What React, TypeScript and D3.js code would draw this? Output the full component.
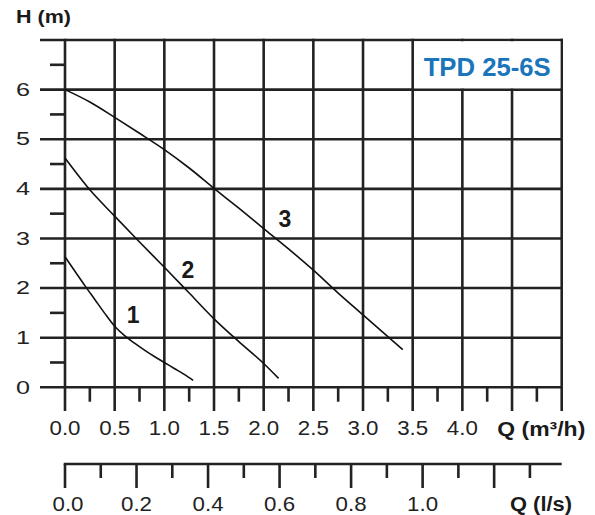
import React from "react";
import * as d3 from "d3";

// ---- data ----
const qMajorTicks = [0, 0.5, 1, 1.5, 2, 2.5, 3, 3.5, 4, 4.5, 5];
const qLabels = ["0.0", "0.5", "1.0", "1.5", "2.0", "2.5", "3.0", "3.5", "4.0"];
const hTicks = [0, 1, 2, 3, 4, 5, 6, 7];
const hLabels = ["0", "1", "2", "3", "4", "5", "6"];
const lsTicks = [0, 0.1, 0.2, 0.3, 0.4, 0.5, 0.6, 0.7, 0.8, 0.9, 1.0, 1.1, 1.2, 1.3];
const lsLabels = ["0.0", "0.2", "0.4", "0.6", "0.8", "1.0"];

const curve1Q = [0, 0.1, 0.2, 0.3, 0.4, 0.5, 0.6, 0.7, 0.8, 0.9, 1.0, 1.1, 1.2, 1.29];
const curve1H = [2.63, 2.34, 2.05, 1.77, 1.49, 1.23, 1.04, 0.89, 0.75, 0.62, 0.5, 0.38, 0.26, 0.14];
const curve2Q = [0, 0.25, 0.5, 0.75, 1.0, 1.25, 1.5, 1.75, 2.0, 2.15];
const curve2H = [4.62, 3.98, 3.45, 2.93, 2.42, 1.9, 1.38, 0.92, 0.48, 0.18];
const curve3Q = [0, 0.25, 0.5, 0.75, 1.0, 1.25, 1.5, 1.75, 2.0, 2.25, 2.5, 2.75, 3.0, 3.25, 3.4];
const curve3H = [6.0, 5.75, 5.44, 5.12, 4.79, 4.42, 4.01, 3.61, 3.2, 2.79, 2.36, 1.9, 1.46, 1.02, 0.76];

const curveNames = ["1", "2", "3"];
const curveLabelQ = [0.685, 1.238, 2.214];
const curveLabelH = [1.46, 2.37, 3.4];

const modelName = "TPD 25-6S";

const W = 595;
const H = 515;
const FONT = "'Liberation Sans', Arial, Helvetica, sans-serif";
const GRID = "#222";

export default function App() {
  const x = d3.scaleLinear().domain([0, 5]).range([65, 561.7]);
  const y = d3.scaleLinear().domain([0, 7]).range([387.3, 40]);
  const xls = d3.scaleLinear().domain([0, 5 / 3.6]).range([65, 561.7]);

  const line = d3
    .line<[number, number]>()
    .x((d) => x(d[0]))
    .y((d) => y(d[1]))
    .curve(d3.curveMonotoneX);

  const curves = [
    curve1Q.map((q, i) => [q, curve1H[i]] as [number, number]),
    curve2Q.map((q, i) => [q, curve2H[i]] as [number, number]),
    curve3Q.map((q, i) => [q, curve3H[i]] as [number, number]),
  ];

  const qMinor = d3.range(0.25, 5, 0.5);
  const hMinor = d3.range(0.5, 7, 1);
  const gw = 2.6;
  const lsY = 464;

  return (
    <svg
      width={W}
      height={H}
      style={{ position: "absolute", left: 0, top: 0, background: "#fff" }}
      fontFamily={FONT}
    >
      <rect x={0} y={0} width={W} height={H} fill="#fff" />
      {/* horizontal grid lines */}
      {hTicks.map((t) => (
        <line key={"h" + t} x1={40} x2={x(5) + gw / 2} y1={y(t)} y2={y(t)} stroke={GRID} strokeWidth={gw} />
      ))}
      {/* minor y ticks */}
      {hMinor.map((t) => (
        <line key={"hm" + t} x1={50} x2={x(0)} y1={y(t)} y2={y(t)} stroke={GRID} strokeWidth={gw} />
      ))}
      {/* vertical grid lines */}
      {qMajorTicks.map((t) => (
        <line key={"v" + t} x1={x(t)} x2={x(t)} y1={y(7) - gw / 2} y2={411} stroke={GRID} strokeWidth={gw} />
      ))}
      {/* minor x ticks */}
      {qMinor.map((t) => (
        <line key={"vm" + t} x1={x(t)} x2={x(t)} y1={y(0)} y2={401.7} stroke={GRID} strokeWidth={gw} />
      ))}
      {/* model box */}
      <rect
        x={x(3.5) + gw / 2}
        y={y(7) + gw / 2}
        width={x(5) - x(3.5) - gw}
        height={y(6) - y(7) - gw}
        fill="#fff"
      />
      <text
        x={(x(3.5) + x(5)) / 2}
        y={75.5}
        textAnchor="middle"
        fontSize={25}
        fontWeight="bold"
        fill="#1b75bb"
        textLength={127}
        lengthAdjust="spacingAndGlyphs"
      >
        {modelName}
      </text>

      {/* curves */}
      {curves.map((c, i) => (
        <path key={"c" + i} d={line(c) || ""} fill="none" stroke="#111" strokeWidth={1.6} />
      ))}
      {curveNames.map((n, i) => (
        <text
          key={"cl" + i}
          x={x(curveLabelQ[i])}
          y={y(curveLabelH[i]) + 8.3}
          textAnchor="middle"
          fontSize={23}
          fontWeight="bold"
          fill="#1a1a1a"
        >
          {n}
        </text>
      ))}

      {/* y labels */}
      {hLabels.map((l, i) => (
        <text
          key={"yl" + i}
          x={23}
          y={y(i) + 6.2}
          textAnchor="middle"
          fontSize={17.7}
          fill="#222"
          textLength={14}
          lengthAdjust="spacingAndGlyphs"
        >
          {l}
        </text>
      ))}
      <text x={16} y={23} fontSize={18.6} fontWeight="bold" fill="#1a1a1a" textLength={55} lengthAdjust="spacingAndGlyphs">
        H (m)
      </text>

      {/* x labels m3/h */}
      {qLabels.map((l, i) => (
        <text
          key={"xl" + i}
          x={x(qMajorTicks[i])}
          y={435}
          textAnchor="middle"
          fontSize={21}
          fill="#222"
          textLength={31}
          lengthAdjust="spacingAndGlyphs"
        >
          {l}
        </text>
      ))}
      <text x={497.3} y={435.5} fontSize={19.5} fontWeight="bold" fill="#1a1a1a" textLength={88} lengthAdjust="spacingAndGlyphs">
        Q (m³/h)
      </text>

      {/* l/s axis */}
      <line x1={x(0) - gw / 2} x2={x(5)} y1={lsY} y2={lsY} stroke={GRID} strokeWidth={gw} />
      {lsTicks.map((t, i) => (
        <line
          key={"ls" + i}
          x1={xls(t)}
          x2={xls(t)}
          y1={lsY}
          y2={i % 2 === 0 ? 488 : 478}
          stroke={GRID}
          strokeWidth={gw}
        />
      ))}
      {lsLabels.map((l, i) => (
        <text
          key={"lsl" + i}
          x={xls(i * 0.2) + (i === 0 ? 3 : 0)}
          y={511}
          textAnchor="middle"
          fontSize={20}
          fill="#222"
          textLength={31}
          lengthAdjust="spacingAndGlyphs"
        >
          {l}
        </text>
      ))}
      <text x={510} y={511} fontSize={19.5} fontWeight="bold" fill="#1a1a1a" textLength={62} lengthAdjust="spacingAndGlyphs">
        Q (l/s)
      </text>
    </svg>
  );
}
